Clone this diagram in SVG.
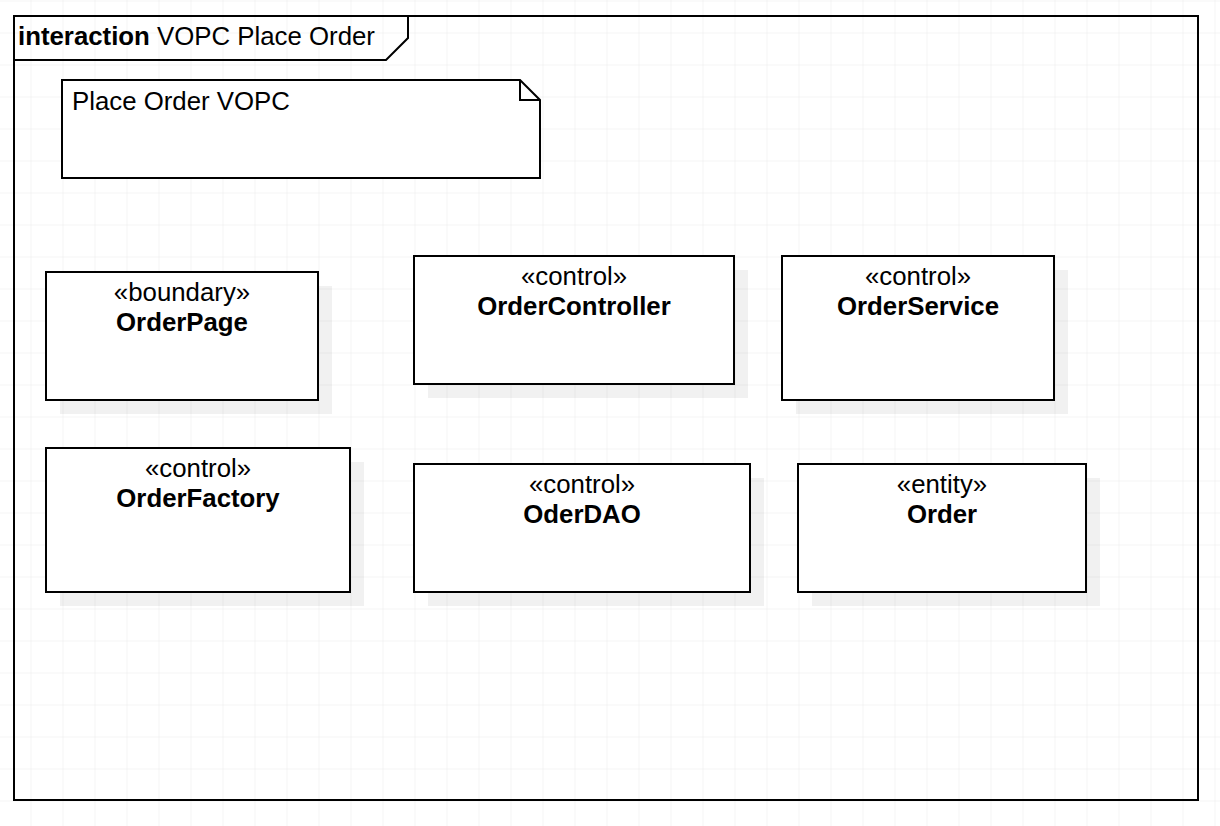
<svg xmlns="http://www.w3.org/2000/svg" width="1220" height="826" viewBox="0 0 1220 826">
  <style>
    .frame{fill:none;stroke:#000;stroke-width:2}
    .box{fill:#fff;stroke:#000;stroke-width:2}
    .shadow{fill:#000;fill-opacity:0.055}
    .st{font-family:"Liberation Sans",Arial,sans-serif;font-size:25.8px;fill:#000;text-anchor:middle}
    .nm{font-family:"Liberation Sans",Arial,sans-serif;font-size:25.8px;font-weight:bold;fill:#000;text-anchor:middle}
    .lbl{font-family:"Liberation Sans",Arial,sans-serif;font-size:25.8px;fill:#000}
  </style>
  <defs>
    <pattern id="grid" x="30.5" y="0.5" width="32" height="32" patternUnits="userSpaceOnUse">
      <path d="M0 0V32M0 0H32" fill="none" stroke="#e9e9e9" stroke-width="1"/>
    </pattern>
  </defs>
  <rect width="1220" height="826" fill="#fff"/>
  <rect width="1220" height="826" fill="url(#grid)"/>

  <g id="frame">
    <rect class="frame" x="14" y="16" width="1184" height="784"/>
    <path class="frame" d="M14 60H386L408 38V16"/>
    <text x="18" y="45" class="lbl"><tspan font-weight="bold">interaction</tspan> VOPC Place Order</text>
  </g>

  <g id="note">
    <path class="box" d="M62 80H520L540 100V178H62Z"/>
    <path class="frame" d="M520 80V100H540"/>
    <text x="72" y="110" class="lbl">Place Order VOPC</text>
  </g>

  <g id="OrderPage">
    <rect class="shadow" x="60" y="286" width="272" height="128"/>
    <rect class="box" x="46" y="272" width="272" height="128"/>
    <text x="182" y="301" class="st">«boundary»</text>
    <text x="182" y="331" class="nm">OrderPage</text>
  </g>

  <g id="OrderController">
    <rect class="shadow" x="428" y="270" width="320" height="128"/>
    <rect class="box" x="414" y="256" width="320" height="128"/>
    <text x="574" y="285" class="st">«control»</text>
    <text x="574" y="315" class="nm">OrderController</text>
  </g>

  <g id="OrderService">
    <rect class="shadow" x="796" y="270" width="272" height="144"/>
    <rect class="box" x="782" y="256" width="272" height="144"/>
    <text x="918" y="285" class="st">«control»</text>
    <text x="918" y="315" class="nm">OrderService</text>
  </g>

  <g id="OrderFactory">
    <rect class="shadow" x="60" y="462" width="304" height="144"/>
    <rect class="box" x="46" y="448" width="304" height="144"/>
    <text x="198" y="477" class="st">«control»</text>
    <text x="198" y="507" class="nm">OrderFactory</text>
  </g>

  <g id="OderDAO">
    <rect class="shadow" x="428" y="478" width="336" height="128"/>
    <rect class="box" x="414" y="464" width="336" height="128"/>
    <text x="582" y="493" class="st">«control»</text>
    <text x="582" y="523" class="nm">OderDAO</text>
  </g>

  <g id="Order">
    <rect class="shadow" x="812" y="478" width="288" height="128"/>
    <rect class="box" x="798" y="464" width="288" height="128"/>
    <text x="942" y="493" class="st">«entity»</text>
    <text x="942" y="523" class="nm">Order</text>
  </g>

  <g id="connectors"></g>
</svg>
